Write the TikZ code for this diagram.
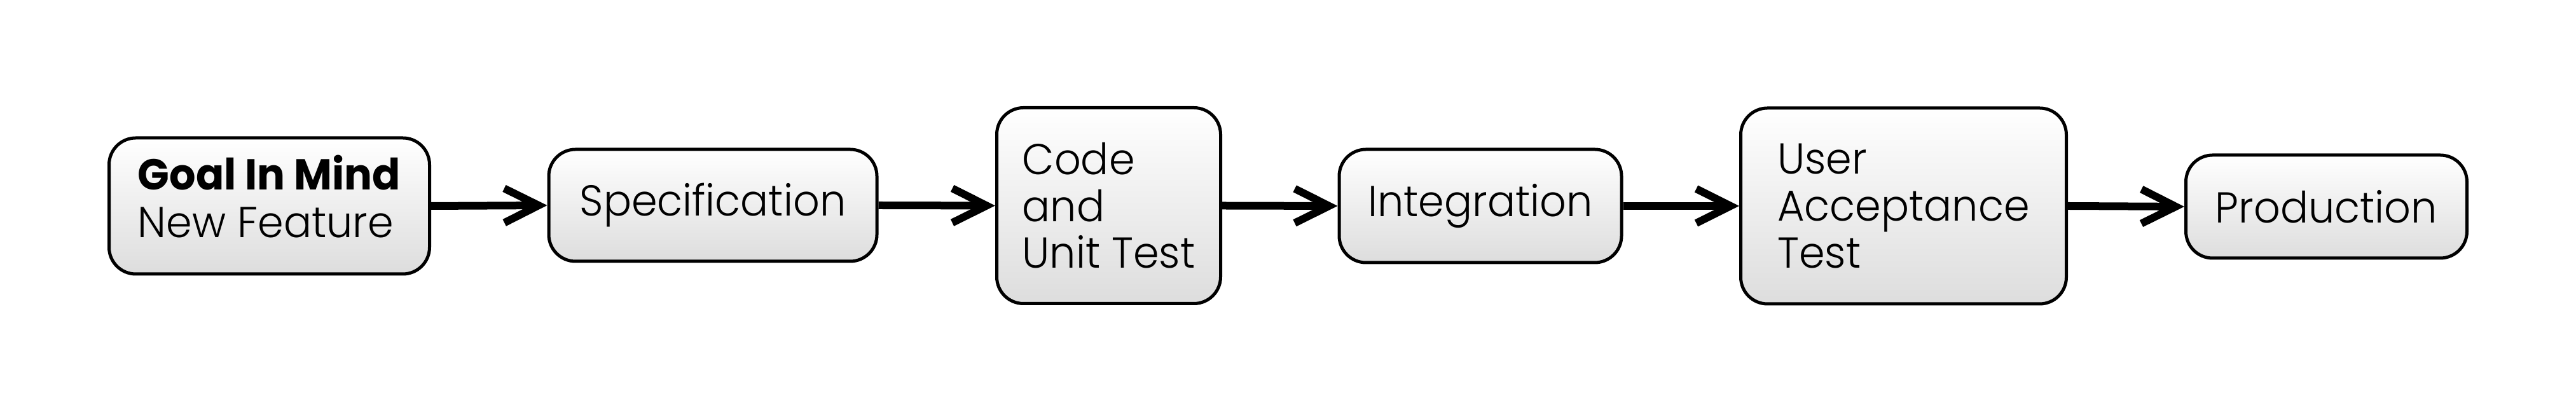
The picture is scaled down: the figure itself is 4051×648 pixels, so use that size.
\documentclass[tikz,border=0pt]{standalone}
\usepackage{fontspec}
\setmainfont{Poppins}[UprightFont=* Light, BoldFont=* Bold, FakeStretch=0.96]
\usetikzlibrary{arrows.meta}
\tikzset{
  stage/.style={draw=black, line width=1.25pt, rounded corners=10.5pt,
    top color=white, bottom color={rgb,255:red,221;green,221;blue,221},
    align=left, inner sep=0pt, font=\fontsize{17pt}{18.4pt}\selectfont},
  flow/.style={line width=3pt, -{Straight Barb[length=13.5pt,width=13.5pt,line width=3pt]}},
}
\begin{document}
\begin{tikzpicture}[x=0.25pt,y=-0.25pt]
\path[use as bounding box, fill=white] (0,0) rectangle (4051,648);
\node[stage, minimum width=126pt, minimum height=53.5pt] (goal) at (423.5,324)
  {\raisebox{1pt}[\height][\depth]{\begin{tabular}{@{}l@{}}\textbf{Goal In Mind}\\[0.5pt]New Feature\end{tabular}}};
\node[stage, minimum width=129pt, minimum height=44pt] (spec) at (1121,323) {Specification};
\node[stage, minimum width=88pt, minimum height=77pt] (code) at (1743.5,323.5) {Code\\and\\Unit Test};
\node[stage, minimum width=111pt, minimum height=44.5pt] (integ) at (2328,324) {Integration};
\node[stage, minimum width=128pt, minimum height=77pt] (uat) at (2993.5,324) {User\\Acceptance\\Test};
\node[stage, minimum width=110.5pt, minimum height=40.5pt] (prod) at (3658.5,325) {Production};
\draw[flow] (goal.east) -- (spec.west);
\draw[flow] (spec.east) -- (code.west);
\draw[flow] (code.east) -- (integ.west);
\draw[flow] (integ.east) -- (uat.west);
\draw[flow] (uat.east) -- (prod.west);
\end{tikzpicture}
\end{document}
